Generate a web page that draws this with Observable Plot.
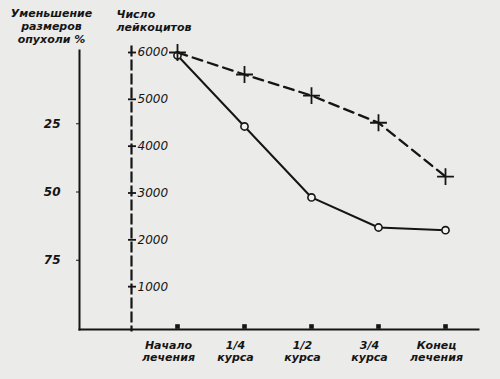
<!DOCTYPE html>
<html>
<head>
<meta charset="utf-8">
<script src="https://cdn.jsdelivr.net/npm/d3@7"></script>
<script src="https://cdn.jsdelivr.net/npm/@observablehq/plot@0.6"></script>
<style>
  html, body { margin: 0; padding: 0; background: #ebebea; }
  #wrap { position: relative; width: 500px; height: 379px; }
  #wrap svg { position: absolute; left: 0; top: 0; background: transparent; }
</style>
</head>
<body>
<div id="wrap"></div>
<script>
// Categories (x axis)
const stages = ["Начало\nлечения", "1/4\nкурса", "1/2\nкурса", "3/4\nкурса", "Конец\nлечения"];
// Tumor size reduction, % (solid line, circles, left axis)
const tumorReduction = [0, 26, 52, 63, 64];
// Leukocyte count (dashed line, crosses, dashed axis)
const leukocytes = [6000, 5530, 5080, 4500, 3350];
// Tick labels
const pctTicks = [25, 50, 75];
const leukTicks = [1000, 2000, 3000, 4000, 5000, 6000];

const tumorData = stages.map((s, i) => ({stage: s, pct: tumorReduction[i]}));
const leukData = stages.map((s, i) => ({stage: s, count: leukocytes[i]}));

const ink = "#151515";
const W = 500, H = 379;
const xScale = {type: "point", domain: stages, range: [177, 445], padding: 0};

// Plot 1: percent axis, bottom axis, tumor line
const p1 = Plot.plot({
  width: W, height: H,
  marginLeft: 79, marginRight: 22, marginTop: 50, marginBottom: 50,
  style: {background: "transparent", color: ink, fontFamily: "DejaVu Sans", fontStyle: "italic", fontWeight: "bold", fontSize: "12px"},
  x: {...xScale, axis: null},
  y: {domain: [0, 100], range: [55, 328], axis: null},
  marks: [
    Plot.frame({anchor: "left", stroke: ink, strokeWidth: 2}),
    Plot.frame({anchor: "bottom", stroke: ink, strokeWidth: 2}),
    Plot.axisY({ticks: pctTicks, anchor: "left", tickSize: 3, tickPadding: 16, label: null, tickFormat: d => String(d), fontSize: 12, fontWeight: "bold"}),
    Plot.axisX({anchor: "bottom", tickSize: 0, tickPadding: 11, label: null, dx: -9, fontSize: 11, fontWeight: "bold", lineHeight: 1.1}),
    Plot.dot(stages, {x: d => d, y: () => 100, symbol: "square", r: 2.6, fill: ink, dy: -2}),
    Plot.line(tumorData, {x: "stage", y: "pct", stroke: ink, strokeWidth: 2}),
    Plot.dot(tumorData, {x: "stage", y: "pct", r: 3.6, stroke: ink, strokeWidth: 1.6, fill: "#f2f2f2"}),
    Plot.text(["Уменьшение\nразмеров\nопухоли %"], {frameAnchor: "top-left", dx: -28, dy: -42, textAnchor: "middle", lineAnchor: "top", fontSize: 11, fontWeight: "bold", lineHeight: 1.15, fill: ink})
  ]
});

// Plot 2: leukocyte dashed axis and dashed line
const p2 = Plot.plot({
  width: W, height: H,
  marginLeft: 0, marginRight: 369, marginTop: 46, marginBottom: 49,
  style: {background: "transparent", color: ink, fontFamily: "DejaVu Sans", fontStyle: "italic", fontSize: "12px"},
  x: {...xScale, axis: null},
  y: {domain: [0, 6000], range: [333, 52], axis: null},
  marks: [
    Plot.frame({anchor: "right", stroke: ink, strokeWidth: 2.2, strokeDasharray: "9,5"}),
    Plot.axisY({ticks: leukTicks, anchor: "right", tickSize: 8, dx: -4, tickPadding: 2, label: null, tickFormat: d => String(d), strokeWidth: 1.8, fontSize: 12}),
    Plot.line(leukData, {x: "stage", y: "count", stroke: ink, strokeWidth: 2.3, strokeDasharray: "10,6"}),
    Plot.dot(leukData, {x: "stage", y: "count", symbol: "plus", r: 5.5, stroke: ink, strokeWidth: 1.8}),
    Plot.text(["Число\nлейкоцитов"], {frameAnchor: "top-right", dx: -15, dy: -38, textAnchor: "start", lineAnchor: "top", fontSize: 11, fontWeight: "bold", lineHeight: 1.2, fill: ink})
  ]
});

document.getElementById("wrap").append(p1, p2);
</script>
</body>
</html>
